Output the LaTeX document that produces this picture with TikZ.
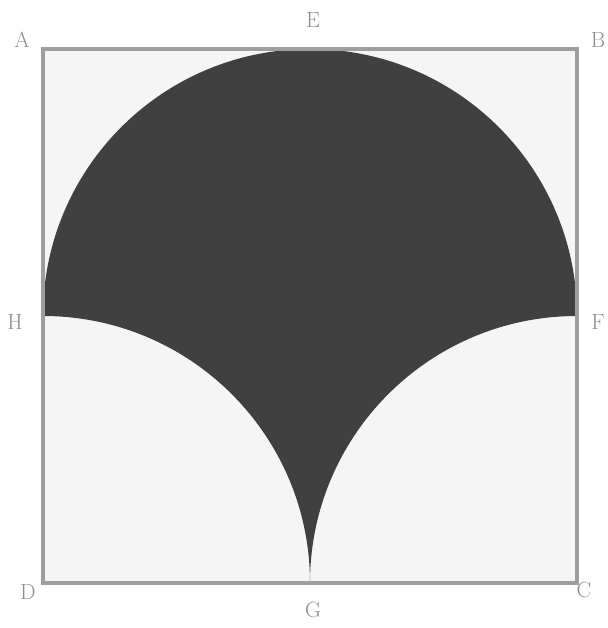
\documentclass[tikz,border=0pt]{standalone}
\begin{document}
\begin{tikzpicture}[x=1pt,y=1pt,
  lab/.style={text=black!45, font=\fontsize{22}{26}\selectfont, inner sep=0pt},
  edge/.style={draw=black!38, line width=4pt},
  shade/.style={fill=black!75}]
\useasboundingbox (0,0) rectangle (607,628);
\coordinate (A) at (43,579);
\coordinate (B) at (577,579);
\coordinate (C) at (577,45);
\coordinate (D) at (43,45);
\coordinate (E) at (310,579);
\coordinate (F) at (577,312);
\coordinate (G) at (310,45);
\coordinate (H) at (43,312);
\fill[black!4] (A) rectangle (C);
\fill[shade] (H) arc[start angle=180, end angle=0, radius=267]
  arc[start angle=90, end angle=180, radius=267]
  arc[start angle=0, end angle=90, radius=267] -- cycle;
\draw[edge] (A) -- (B) -- (C) -- (D) -- cycle;
\node[lab] (lA) at (22,588) {A};
\node[lab] (lE) at (313,608) {E};
\node[lab] (lB) at (598,588) {B};
\node[lab] (lH) at (15,306) {H};
\node[lab] (lF) at (598,306) {F};
\node[lab] (lD) at (28,36) {D};
\node[lab] (lG) at (313,18) {G};
\node[lab] (lC) at (584,38) {C};
\end{tikzpicture}
\end{document}
